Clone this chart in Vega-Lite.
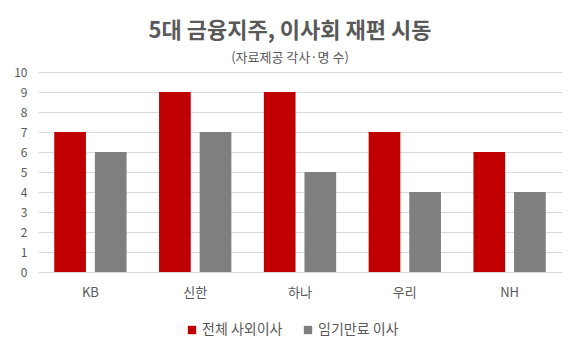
{
  "$schema": "https://vega.github.io/schema/vega-lite/v6.json",
  "width": 524,
  "height": 200,
  "autosize": "none",
  "padding": {"left": 38, "top": 72, "right": 18, "bottom": 79},
  "background": "white",
  "title": {
    "text": "5대 금융지주, 이사회 재편 시동",
    "subtitle": "(자료제공 각사·명 수)",
    "font": "Noto Sans CJK KR",
    "subtitleFont": "Noto Sans CJK KR",
    "fontSize": 22,
    "fontWeight": "bold",
    "subtitleFontSize": 13,
    "color": "#595959",
    "subtitleColor": "#595959",
    "anchor": "middle",
    "offset": 0,
    "subtitlePadding": 9,
    "dx": -10
  },
  "data": {
    "values": [
      {"company": "KB", "series": "전체 사외이사", "value": 7},
      {"company": "KB", "series": "임기만료 이사", "value": 6},
      {"company": "신한", "series": "전체 사외이사", "value": 9},
      {"company": "신한", "series": "임기만료 이사", "value": 7},
      {"company": "하나", "series": "전체 사외이사", "value": 9},
      {"company": "하나", "series": "임기만료 이사", "value": 5},
      {"company": "우리", "series": "전체 사외이사", "value": 7},
      {"company": "우리", "series": "임기만료 이사", "value": 4},
      {"company": "NH", "series": "전체 사외이사", "value": 6},
      {"company": "NH", "series": "임기만료 이사", "value": 4}
    ]
  },
  "mark": {"type": "bar"},
  "encoding": {
    "x": {
      "field": "company",
      "type": "nominal",
      "sort": ["KB", "신한", "하나", "우리", "NH"],
      "scale": {"paddingInner": 0.31, "paddingOuter": 0.155},
      "axis": {
        "title": null,
        "labelAngle": 0,
        "ticks": false,
        "domain": false,
        "labelPadding": 14,
        "labelFontSize": 13,
        "labelColor": "#595959",
        "labelFont": "Noto Sans CJK KR"
      }
    },
    "xOffset": {
      "field": "series",
      "type": "nominal",
      "sort": ["전체 사외이사", "임기만료 이사"],
      "scale": {"paddingInner": 0.22}
    },
    "y": {
      "field": "value",
      "type": "quantitative",
      "scale": {"domain": [0, 10]},
      "axis": {
        "title": null,
        "values": [0, 1, 2, 3, 4, 5, 6, 7, 8, 9, 10],
        "ticks": false,
        "domain": false,
        "labelPadding": 11,
        "labelFontSize": 12,
        "labelColor": "#595959",
        "labelFont": "Noto Sans CJK KR",
        "gridColor": "#D9D9D9"
      }
    },
    "color": {
      "field": "series",
      "type": "nominal",
      "sort": ["전체 사외이사", "임기만료 이사"],
      "scale": {"domain": ["전체 사외이사", "임기만료 이사"], "range": ["#C00000", "#7F7F7F"]},
      "legend": {
        "title": null,
        "orient": "none",
        "legendX": 147,
        "legendY": 251,
        "direction": "horizontal",
        "symbolType": "square",
        "symbolSize": 70,
        "symbolStrokeWidth": 0,
        "labelFontSize": 14,
        "labelColor": "#595959",
        "labelFont": "Noto Sans CJK KR",
        "columnPadding": 18,
        "labelOffset": 3
      }
    }
  },
  "config": {"view": {"stroke": null}}
}
